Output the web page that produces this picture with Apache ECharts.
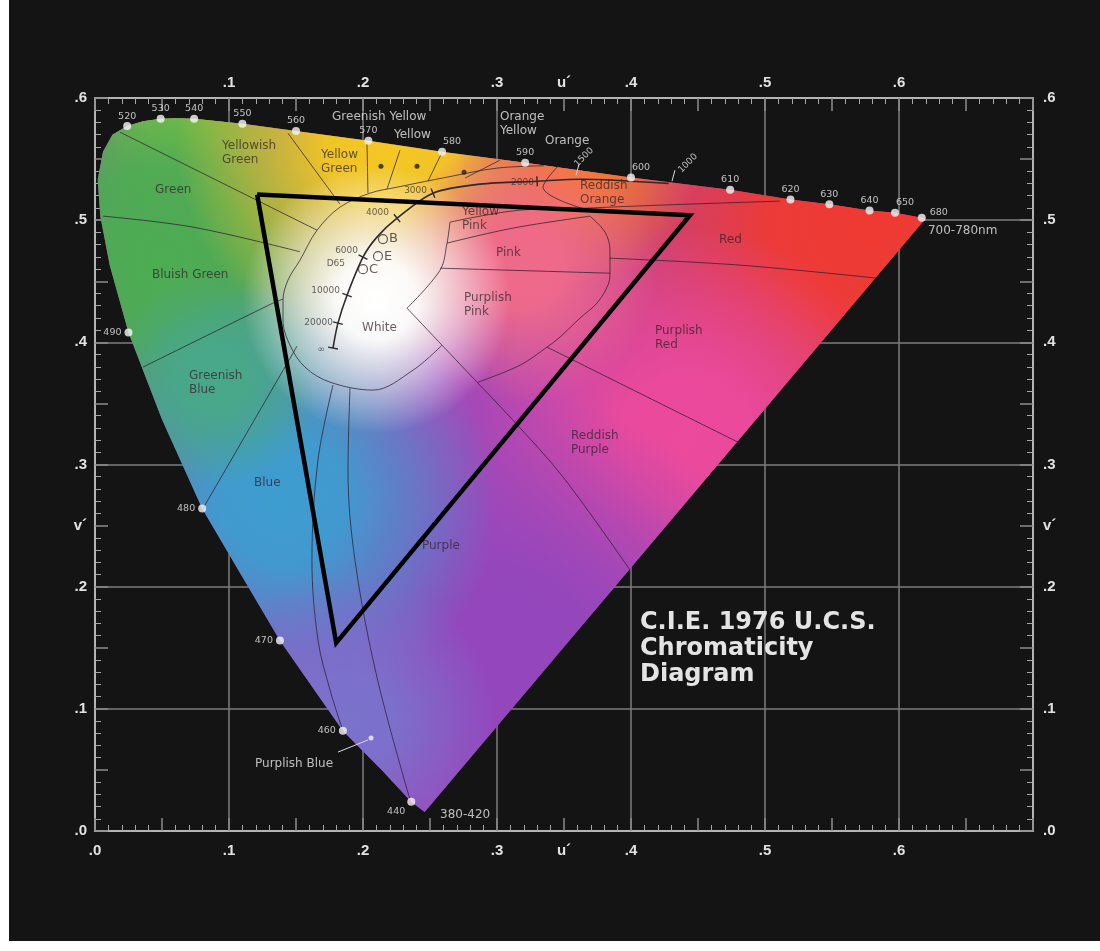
<!DOCTYPE html>
<html>
<head>
<meta charset="utf-8">
<script src="https://cdn.jsdelivr.net/npm/echarts@6/dist/echarts.min.js"></script>
<style>
  html, body { margin: 0; padding: 0; background: #141414; }
  #main { width: 1100px; height: 951px; }
</style>
</head>
<body>
<div id="main"></div>
<script>
// spectral locus: [u', v', nm]
const spectralLocus = [
  [0.246, 0.0155, 380], [0.236, 0.024, 440], [0.214, 0.050, 450], [0.185, 0.082, 460],
  [0.138, 0.156, 470], [0.110, 0.208, 475], [0.080, 0.264, 480], [0.050, 0.337, 485],
  [0.025, 0.408, 490], [0.011, 0.463, 495], [0.004, 0.503, 500], [0.002, 0.533, 505],
  [0.006, 0.556, 510], [0.013, 0.570, 515], [0.024, 0.577, 520], [0.036, 0.581, 525],
  [0.049, 0.583, 530], [0.062, 0.5835, 535], [0.074, 0.583, 540], [0.092, 0.581, 545],
  [0.110, 0.579, 550], [0.150, 0.573, 560], [0.204, 0.565, 570], [0.259, 0.556, 580],
  [0.321, 0.547, 590], [0.400, 0.535, 600], [0.474, 0.525, 610], [0.519, 0.517, 620],
  [0.548, 0.513, 630], [0.578, 0.508, 640], [0.597, 0.506, 650], [0.617, 0.502, 680],
  [0.620, 0.5015, 700]
];
const markedNm = [440, 460, 470, 480, 490, 520, 530, 540, 550, 560, 570, 580, 590, 600, 610, 620, 630, 640, 650, 680];

// display gamut triangle
const gamut = [[0.121, 0.521], [0.444, 0.504], [0.180, 0.154], [0.121, 0.521]];

// colour name region borders
const borderLines = [
  [[0.0187, 0.572], [0.1657, 0.4918]],
  [[0.144, 0.5712], [0.1828, 0.5131]],
  [[0.006, 0.5033], [0.0731, 0.4943], [0.153, 0.4741]],
  [[0.0358, 0.3797], [0.1328, 0.4321], [0.1403, 0.4354]],
  [[0.0799, 0.2627], [0.1478, 0.3912], [0.1507, 0.3969]],
  [[0.259, 0.3977], [0.2373, 0.3772], [0.2075, 0.3609], [0.1754, 0.3674], [0.1567, 0.3797], [0.1455, 0.3977],
   [0.1403, 0.4182], [0.1403, 0.4345], [0.144, 0.4509], [0.153, 0.4673], [0.1657, 0.4918], [0.1828, 0.5106],
   [0.2052, 0.5221], [0.2254, 0.527], [0.2627, 0.5352], [0.3, 0.5426], [0.335, 0.5445]],
  [[0.1776, 0.365], [0.1664, 0.3036], [0.1619, 0.2218], [0.1664, 0.1563], [0.1754, 0.1154], [0.1851, 0.0818]],
  [[0.1903, 0.3625], [0.1888, 0.2954], [0.194, 0.2218], [0.2104, 0.126], [0.2358, 0.0229]],
  [[0.2328, 0.428], [0.2575, 0.4591], [0.2627, 0.4812], [0.2649, 0.4984]],
  [[0.2328, 0.428], [0.2851, 0.3674], [0.3119, 0.3363], [0.3493, 0.2897], [0.399, 0.214]],
  [[0.2858, 0.3674], [0.3172, 0.3813], [0.3373, 0.3961], [0.347, 0.4043], [0.3619, 0.4198], [0.3746, 0.4321],
   [0.3828, 0.4468], [0.3843, 0.4566], [0.3843, 0.4755], [0.3806, 0.4902], [0.3694, 0.5033]],
  [[0.2627, 0.4812], [0.3119, 0.4935], [0.3694, 0.5033]],
  [[0.2649, 0.4984], [0.3172, 0.5082], [0.3657, 0.5098]],
  [[0.3657, 0.5098], [0.4216, 0.5123], [0.5112, 0.5156]],
  [[0.3843, 0.4689], [0.4813, 0.4632], [0.5836, 0.4525]],
  [[0.2575, 0.4607], [0.3843, 0.4566]],
  [[0.3373, 0.3961], [0.4813, 0.3175]],
  [[0.203, 0.5638], [0.2037, 0.5221]],
  [[0.2276, 0.5573], [0.2179, 0.5254]],
  [[0.259, 0.5556], [0.2485, 0.5319]],
  [[0.3022, 0.5491], [0.2761, 0.5344]],
  [[0.3455, 0.5442], [0.3343, 0.527], [0.3679, 0.5082]]
];

// planckian locus and its temperature ticks
const planckLocus = [
  [0.1776, 0.3953], [0.1813, 0.4157], [0.1881, 0.4386], [0.2000, 0.4697], [0.2104, 0.4861],
  [0.2254, 0.5016], [0.2522, 0.5221], [0.2873, 0.5295], [0.3299, 0.5319], [0.3619, 0.5335], [0.428, 0.530]
];
const planckTickIdx = [0, 1, 2, 3, 5, 6, 8];
const planckNames = [
  [0.1716, 0.3944, '∞'], [0.1776, 0.4157, '20000'], [0.1828, 0.4427, '10000'], [0.1963, 0.4754, '6000'],
  [0.1866, 0.4648, 'D65'], [0.2194, 0.5065, '4000'], [0.2478, 0.5245, '3000'], [0.3276, 0.5303, '2000']
];
const outerTemps = [[0.3649, 0.5516, '1500'], [0.4425, 0.5466, '1000']];
const outerTempTicks = [
  [[0.3590, 0.5368], [0.3612, 0.5458]],
  [[0.4306, 0.5319], [0.4328, 0.5409]]
];
const illuminants = [[0.2149, 0.4845, 'B'], [0.2112, 0.4705, 'E'], [0.2000, 0.4599, 'C']];
const smallDots = [[0.2134, 0.5442], [0.2403, 0.5442], [0.2754, 0.5393]];

const regionNames = [
  [0.0948, 0.5548, 'Yellowish\nGreen'], [0.1687, 0.5475, 'Yellow\nGreen'], [0.0448, 0.5245, 'Green'],
  [0.0425, 0.455, 'Bluish Green'], [0.0701, 0.3666, 'Greenish\nBlue'], [0.1187, 0.2848, 'Blue'],
  [0.1993, 0.4116, 'White'], [0.2993, 0.473, 'Pink'], [0.2754, 0.4304, 'Purplish\nPink'],
  [0.4179, 0.4034, 'Purplish\nRed'], [0.4657, 0.4836, 'Red'], [0.3619, 0.5221, 'Reddish\nOrange'],
  [0.3552, 0.3175, 'Reddish\nPurple'], [0.244, 0.2332, 'Purple'], [0.2739, 0.5008, 'Yellow\nPink']
];
const outerNames = [
  [0.1769, 0.5843, 'Greenish Yellow'], [0.2231, 0.5696, 'Yellow'], [0.3022, 0.5786, 'Orange\nYellow'],
  [0.3358, 0.5646, 'Orange'], [0.1194, 0.0548, 'Purplish Blue'], [0.2575, 0.0131, '380-420'],
  [0.6216, 0.491, '700-780nm']
];
const pointerLine = [[0.1813, 0.0646], [0.2037, 0.0745]];
const pointerDot = [[0.2060, 0.0761]];

const uTickLabels = ['.0', '.1', '.2', '.3', '.4', '.5', '.6'];
const vTickLabels = ['.0', '.1', '.2', '.3', '.4', '.5', '.6'];

// soft colour glows layered over the locus: [u, v, radius, colour]
const glows = [
  [0.58, 0.50, 0.26, '#ef3a32'],
  [0.44, 0.32, 0.16, '#ec4a9c'],
  [0.31, 0.14, 0.20, '#9446bc'],
  [0.06, 0.59, 0.08, '#b8d23a'],
  [0.05, 0.47, 0.22, '#4cad52'],
  [0.22, 0.565, 0.16, '#f5c822'],
  [0.36, 0.545, 0.09, '#f47a2c'],
  [0.14, 0.27, 0.16, '#3d9dd0'],
  [0.09, 0.37, 0.08, '#48a888'],
  [0.19, 0.09, 0.11, '#7a72cc'],
  [0.32, 0.46, 0.10, '#f06a8a'],
  [0.21, 0.435, 0.10, '#ffffff']
];

function rgba(hex, a) {
  const n = parseInt(hex.slice(1), 16);
  return 'rgba(' + (n >> 16) + ',' + ((n >> 8) & 255) + ',' + (n & 255) + ',' + a + ')';
}

function tickText(labels, nameAt, name, skipZero) {
  return function (val) {
    const k = Math.round(val * 20);
    if (k === nameAt) return name;
    if (k % 2 === 0 && k / 2 < labels.length && !(skipZero && k === 0)) return labels[k / 2];
    return '';
  };
}

const font = 'Liberation Sans';
const wideFont = 'DejaVu Sans';
const frameColor = '#b4b4b4';

function frameAxis(position, max, formatter, margin) {
  return {
    type: 'value', position: position, min: 0, max: max, interval: 0.05,
    axisLine: { show: true, onZero: false, lineStyle: { color: frameColor, width: 2 } },
    axisTick: { show: true, inside: true, length: 13, lineStyle: { color: '#8c8c8c', width: 1.5 } },
    minorTick: { show: true, splitNumber: 5, length: 6, lineStyle: { color: '#a8a8a8', width: 1 } },
    splitLine: { show: false },
    axisLabel: { color: '#e2e2e2', fontSize: 15, fontWeight: 'bold', fontFamily: font, margin: margin, formatter: formatter }
  };
}
function gridAxis(position, max) {
  return {
    type: 'value', position: position, min: 0, max: max, interval: 0.1,
    axisLine: { show: false, onZero: false }, axisTick: { show: false }, axisLabel: { show: false },
    splitLine: { show: true, lineStyle: { color: '#7c7c7c', width: 1.5 } }
  };
}

const chart = echarts.init(document.getElementById('main'));

function textSeries(items, color, size, align) {
  return {
    type: 'scatter', symbolSize: 0, silent: true, z: 6,
    data: items,
    label: {
      show: true, position: 'inside', align: align, verticalAlign: 'middle',
      formatter: (p) => p.data[2], color: color, fontSize: size, fontFamily: wideFont, lineHeight: size + 2
    }
  };
}

function nmPlacement(nm) {
  if (nm === 440) return { position: 'left', distance: 2, offset: [0, 10] };
  if (nm <= 490) return { position: 'left', distance: 3 };
  if (nm === 680) return { position: 'right', distance: 4, offset: [0, -5] };
  if (nm === 580 || nm === 600 || nm === 650) return { position: 'top', distance: 1, offset: [10, 0] };
  return { position: 'top', distance: 1 };
}

const option = {
  backgroundColor: '#141414',
  animation: false,
  title: {
    text: 'C.I.E. 1976 U.C.S.\nChromaticity\nDiagram',
    left: 635, top: 605,
    textStyle: { color: '#e4e4e4', fontSize: 24, fontWeight: 'bold', fontFamily: wideFont, lineHeight: 26 }
  },
  graphic: [
    { type: 'rect', shape: { x: 0, y: 0, width: 9, height: 951 }, style: { fill: '#ffffff' }, z: 100 },
    { type: 'rect', shape: { x: 0, y: 941, width: 1100, height: 10 }, style: { fill: '#ffffff' }, z: 100 }
  ],
  grid: { left: 95, right: 67, top: 98, bottom: 120 },
  xAxis: [
    frameAxis('bottom', 0.7, tickText(uTickLabels, 7, 'u´', false), 12),
    frameAxis('top', 0.7, tickText(uTickLabels, 7, 'u´', true), 8),
    gridAxis('bottom', 0.7)
  ],
  yAxis: [
    frameAxis('left', 0.6, tickText(vTickLabels, 5, 'v´', false), 8),
    frameAxis('right', 0.6, tickText(vTickLabels, 5, 'v´', false), 10),
    gridAxis('left', 0.6)
  ],
  series: [
    {
      type: 'custom', silent: true, z: 2,
      data: [[0.3, 0.3]],
      renderItem: function (params, api) {
        const pts = spectralLocus.map((p) => api.coord([p[0], p[1]]));
        const pxPerU = api.size([1, 0])[0];
        const children = [{ type: 'polygon', shape: { points: pts }, style: { fill: '#a648b8' } }];
        glows.forEach(function (g) {
          const c = api.coord([g[0], g[1]]);
          children.push({
            type: 'polygon', shape: { points: pts },
            style: {
              fill: {
                type: 'radial', global: true, x: c[0], y: c[1], r: g[2] * pxPerU,
                colorStops: [
                  { offset: 0, color: rgba(g[3], 1) },
                  { offset: 0.3, color: rgba(g[3], 0.95) },
                  { offset: 0.65, color: rgba(g[3], 0.5) },
                  { offset: 1, color: rgba(g[3], 0) }
                ]
              }
            }
          });
        });
        return { type: 'group', children: children };
      }
    },
    ...borderLines.map((line) => ({
      type: 'line', data: line, showSymbol: false, smooth: 0.35, silent: true, z: 3,
      lineStyle: { color: 'rgba(45,30,45,0.75)', width: 1 }
    })),
    {
      type: 'line', data: planckLocus, showSymbol: false, smooth: 0.3, silent: true, z: 4,
      lineStyle: { color: '#2e2a2e', width: 1.6 }
    },
    {
      type: 'custom', silent: true, z: 4,
      data: planckTickIdx.map((i) => [planckLocus[i][0], planckLocus[i][1], i]),
      renderItem: function (params, api) {
        const i = api.value(2);
        const p = api.coord(planckLocus[i]);
        const a = api.coord(planckLocus[Math.max(i - 1, 0)]);
        const b = api.coord(planckLocus[Math.min(i + 1, planckLocus.length - 1)]);
        let dx = b[0] - a[0], dy = b[1] - a[1];
        const len = Math.hypot(dx, dy);
        dx /= len; dy /= len;
        const h = 5;
        return {
          type: 'line',
          shape: { x1: p[0] - dy * h, y1: p[1] + dx * h, x2: p[0] + dy * h, y2: p[1] - dx * h },
          style: { stroke: '#2e2a2e', lineWidth: 1.4 }
        };
      }
    },
    ...outerTempTicks.map((line) => ({
      type: 'line', data: line, showSymbol: false, silent: true, z: 4,
      lineStyle: { color: '#d8d8d8', width: 1 }
    })),
    {
      type: 'scatter', data: illuminants, symbol: 'circle', symbolSize: 9, silent: true, z: 5,
      itemStyle: { color: 'rgba(0,0,0,0)', borderColor: '#3a3236', borderWidth: 1.2 },
      label: { show: true, position: 'right', distance: 1, formatter: (p) => p.data[2], color: '#3a3236', fontSize: 13, fontFamily: wideFont }
    },
    {
      type: 'scatter', data: smallDots, symbolSize: 5, silent: true, z: 5,
      itemStyle: { color: '#241c1c' }
    },
    textSeries(regionNames, 'rgba(50,32,42,0.9)', 12, 'left'),
    textSeries(planckNames, 'rgba(50,40,44,0.9)', 9, 'right'),
    textSeries(outerNames, '#e6e6e6', 12, 'left'),
    {
      type: 'scatter', symbolSize: 0, silent: true, z: 6, data: outerTemps,
      label: { show: true, position: 'inside', rotate: 45, formatter: (p) => p.data[2], color: '#e6e6e6', fontSize: 9, fontFamily: wideFont }
    },
    {
      type: 'line', data: gamut, showSymbol: false, silent: true, z: 7,
      lineStyle: { color: '#000000', width: 4.5, join: 'miter' }
    },
    {
      type: 'line', data: pointerLine, showSymbol: false, silent: true, z: 7,
      lineStyle: { color: '#d8d8e8', width: 1 }
    },
    {
      type: 'scatter', data: pointerDot, symbolSize: 5, silent: true, z: 8,
      itemStyle: { color: '#f4f4ff' }
    },
    {
      type: 'scatter', symbolSize: 8, silent: true, z: 8,
      itemStyle: { color: '#f6f6f6' },
      data: spectralLocus.filter((p) => markedNm.indexOf(p[2]) >= 0).map((p) => ({
        value: [p[0], p[1], p[2]],
        label: Object.assign({
          show: true, formatter: String(p[2]), color: '#e8e8e8', fontSize: 9.5, fontFamily: wideFont
        }, nmPlacement(p[2]))
      }))
    }
  ]
};

chart.setOption(option);
</script>
</body>
</html>
